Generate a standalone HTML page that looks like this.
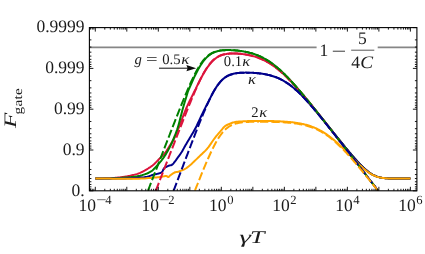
<!DOCTYPE html>
<html><head><meta charset="utf-8"><title>Fgate</title>
<style>html,body{margin:0;padding:0;background:#fff;width:425px;height:254px;overflow:hidden;font-family:"Liberation Serif",serif}</style></head>
<body>
<svg width="425" height="254" viewBox="0 0 425 254" style="position:absolute;left:0;top:0;will-change:transform" text-rendering="geometricPrecision">
<defs><clipPath id="cp"><rect x="89.4" y="27.6" width="327.5" height="163.20000000000002"/></clipPath></defs>
<path d="M89.4,47.40 H316.6 M377.7,47.40 H416.9" stroke="#868686" stroke-width="1.8" fill="none"/>
<g clip-path="url(#cp)" fill="none" stroke-linejoin="round">
<path d="M95.30,178.50 L96.48,178.48 L98.10,178.45 L100.03,178.42 L102.15,178.39 L104.33,178.35 L106.45,178.30 L108.38,178.25 L110.00,178.20 L111.33,178.14 L112.49,178.08 L113.53,178.01 L114.48,177.94 L115.37,177.86 L116.23,177.78 L117.09,177.69 L118.00,177.60 L118.92,177.51 L119.82,177.41 L120.69,177.31 L121.56,177.20 L122.41,177.09 L123.27,176.97 L124.13,176.84 L125.00,176.70 L125.88,176.55 L126.77,176.40 L127.66,176.24 L128.54,176.07 L129.43,175.90 L130.32,175.71 L131.21,175.51 L132.10,175.30 L132.99,175.08 L133.88,174.86 L134.76,174.63 L135.65,174.39 L136.54,174.13 L137.42,173.85 L138.31,173.54 L139.20,173.20 L140.09,172.83 L140.97,172.44 L141.86,172.02 L142.75,171.57 L143.64,171.11 L144.53,170.63 L145.41,170.12 L146.30,169.60 L147.19,169.06 L148.08,168.52 L148.96,167.95 L149.85,167.37 L150.74,166.76 L151.63,166.11 L152.51,165.43 L153.40,164.70 L154.31,163.90 L155.24,163.02 L156.18,162.09 L157.11,161.13 L158.03,160.18 L158.91,159.25 L159.74,158.38 L160.50,157.60 L161.20,156.90 L161.84,156.27 L162.44,155.69 L163.01,155.14 L163.54,154.61 L164.04,154.08 L164.53,153.55 L165.00,153.00 L165.44,152.45 L165.83,151.91 L166.19,151.39 L166.53,150.87 L166.86,150.33 L167.21,149.76 L167.58,149.16 L168.00,148.50 L168.47,147.78 L168.97,146.99 L169.51,146.17 L170.05,145.31 L170.59,144.45 L171.13,143.60 L171.63,142.78 L172.10,142.00 L172.52,141.29 L172.91,140.63 L173.28,140.00 L173.63,139.39 L173.98,138.75 L174.33,138.08 L174.70,137.33 L175.10,136.50 L175.49,135.64 L175.86,134.81 L176.23,133.96 L176.61,133.04 L177.02,132.02 L177.50,130.83 L178.05,129.44 L178.70,127.80 L179.46,125.83 L180.33,123.56 L181.27,121.05 L182.27,118.40 L183.30,115.69 L184.35,112.99 L185.39,110.40 L186.40,108.00 L187.45,105.65 L188.59,103.22 L189.76,100.78 L190.93,98.41 L192.04,96.20 L193.04,94.23 L193.87,92.57 L194.50,91.30 L195.69,88.96 L196.52,87.18 L197.35,85.43 L198.18,83.71 L199.01,82.03 L199.84,80.38 L200.68,78.77 L201.51,77.20 L202.34,75.67 L203.17,74.18 L204.00,72.75 L204.84,71.37 L205.67,70.04 L206.50,68.76 L207.33,67.55 L208.16,66.39 L208.99,65.28 L209.81,64.24 L210.60,63.26 L211.39,62.34 L212.18,61.48 L212.97,60.67 L213.76,59.93 L214.55,59.24 L215.34,58.60 L216.13,58.01 L216.92,57.47 L217.71,56.98 L218.50,56.54 L219.29,56.13 L220.08,55.77 L220.87,55.44 L221.66,55.15 L222.45,54.88 L223.24,54.65 L224.03,54.45 L224.81,54.27 L225.60,54.11 L226.39,53.97 L227.18,53.86 L227.97,53.76 L228.76,53.68 L229.55,53.61 L230.34,53.56 L231.13,53.52 L231.92,53.50 L232.71,53.48 L233.50,53.48 L234.29,53.48 L235.08,53.50 L235.87,53.53 L236.66,53.56 L237.45,53.61 L238.24,53.66 L239.03,53.72 L239.82,53.79 L240.61,53.86 L241.40,53.94 L242.19,54.04 L242.98,54.13 L243.77,54.24 L244.56,54.35 L245.35,54.48 L246.14,54.61 L246.93,54.75 L247.72,54.89 L248.51,55.05 L249.30,55.21 L250.09,55.39 L250.88,55.57 L251.67,55.76 L252.46,55.96 L253.24,56.18 L254.03,56.40 L254.82,56.63 L255.61,56.88 L256.40,57.13 L257.19,57.40 L257.98,57.68 L258.77,57.97 L259.56,58.27 L260.35,58.59 L261.14,58.92 L261.93,59.26 L262.72,59.61 L263.51,59.98 L264.30,60.36 L265.09,60.76 L265.88,61.17 L266.67,61.60 L267.46,62.04 L268.25,62.49 L269.04,62.96 L269.83,63.44 L270.62,63.94 L271.41,64.45 L272.20,64.98 L272.99,65.52 L273.78,66.08 L274.57,66.65 L275.36,67.24 L276.15,67.84 L276.94,68.45 L277.73,69.08 L278.52,69.72 L279.31,70.38 L280.10,71.05 L280.89,71.73 L281.67,72.43 L282.46,73.14 L283.25,73.86 L284.04,74.59 L284.83,75.33 L285.62,76.09 L286.41,76.86 L287.20,77.64 L287.99,78.42 L288.78,79.22 L289.57,80.03 L290.36,80.85 L291.15,81.68 L291.94,82.51 L292.73,83.36 L293.52,84.21 L294.31,85.07 L295.10,85.94 L295.89,86.82 L296.68,87.70 L297.47,88.59 L298.26,89.48 L299.05,90.39 L299.84,91.29 L300.63,92.21 L301.42,93.13 L302.21,94.05 L303.00,94.98 L303.79,95.91 L304.58,96.85 L305.37,97.79 L306.16,98.74 L306.95,99.69 L307.74,100.64 L308.53,101.60 L309.32,102.56 L310.11,103.52 L310.89,104.48 L311.68,105.45 L312.47,106.42 L313.26,107.39 L314.05,108.37 L314.84,109.35 L315.63,110.32 L316.42,111.30 L317.21,112.29 L318.00,113.27 L318.79,114.26 L319.58,115.24 L320.37,116.23 L321.16,117.22 L321.95,118.21 L322.74,119.20 L323.53,120.19 L324.32,121.18 L325.11,122.17 L325.90,123.17 L326.69,124.16 L327.48,125.15 L328.27,126.15 L329.06,127.14 L329.85,128.13 L330.64,129.12 L331.43,130.12 L332.22,131.11 L333.01,132.10 L333.80,133.09 L334.59,134.08 L335.38,135.07 L336.17,136.06 L336.96,137.05 L337.75,138.04 L338.54,139.02 L339.32,140.00 L340.11,140.99 L340.90,141.97 L341.69,142.94 L342.48,143.92 L343.27,144.89 L344.06,145.86 L344.85,146.83 L345.64,147.79 L346.43,148.75 L347.22,149.71 L348.01,150.66 L348.80,151.61 L349.59,152.55 L350.38,153.49 L351.17,154.42 L351.96,155.35 L352.75,156.27 L353.54,157.18 L354.33,158.08 L355.12,158.98 L355.91,159.87 L356.70,160.74 L357.49,161.61 L358.28,162.46 L359.07,163.30 L359.86,164.13 L360.65,164.94 L361.44,165.74 L362.23,166.52 L363.02,167.28 L363.81,168.02 L364.60,168.74 L365.39,169.44 L366.18,170.11 L366.97,170.76 L367.75,171.39 L368.54,171.98 L369.33,172.55 L370.12,173.10 L370.91,173.61 L371.70,174.09 L372.49,174.54 L373.28,174.96 L374.07,175.35 L374.86,175.71 L375.65,176.05 L376.44,176.35 L377.23,176.62 L378.02,176.87 L378.81,177.10 L379.60,177.30 L380.39,177.48 L381.18,177.63 L381.97,177.77 L382.76,177.89 L383.55,178.00 L384.34,178.09 L385.13,178.17 L385.92,178.24 L386.71,178.29 L387.50,178.34 L388.29,178.38 L389.08,178.41 L389.87,178.43 L390.66,178.46 L391.45,178.47 L392.24,178.48 L393.03,178.49 L393.82,178.50 L394.61,178.51 L395.40,178.51 L396.18,178.51 L396.97,178.51 L397.76,178.52 L398.55,178.52 L399.34,178.52 L400.13,178.52 L400.92,178.52 L401.71,178.52 L402.50,178.52 L403.29,178.52 L404.08,178.52 L404.87,178.52 L405.66,178.52 L406.45,178.52 L407.24,178.52 L408.03,178.52 L408.82,178.52 L409.61,178.52 L410.40,178.52" stroke="#DC143C" stroke-width="2"/>
<path d="M95.30,178.50 L96.43,178.50 L97.93,178.50 L99.72,178.50 L101.71,178.50 L103.82,178.49 L105.96,178.48 L108.05,178.45 L110.00,178.40 L111.91,178.33 L113.91,178.24 L115.95,178.14 L117.97,178.03 L119.94,177.92 L121.80,177.80 L123.50,177.70 L125.00,177.60 L126.27,177.52 L127.33,177.45 L128.24,177.38 L129.04,177.32 L129.78,177.25 L130.51,177.18 L131.27,177.10 L132.10,177.00 L132.99,176.89 L133.88,176.78 L134.76,176.67 L135.65,176.54 L136.54,176.41 L137.42,176.26 L138.31,176.09 L139.20,175.90 L140.11,175.69 L141.04,175.45 L141.99,175.19 L142.93,174.91 L143.85,174.63 L144.73,174.35 L145.55,174.07 L146.30,173.80 L146.97,173.54 L147.58,173.28 L148.14,173.02 L148.66,172.76 L149.15,172.49 L149.61,172.23 L150.06,171.97 L150.50,171.70 L150.90,171.47 L151.22,171.29 L151.50,171.13 L151.77,170.96 L152.06,170.74 L152.41,170.45 L152.85,170.04 L153.40,169.50 L154.10,168.78 L154.94,167.91 L155.87,166.91 L156.85,165.85 L157.84,164.75 L158.81,163.67 L159.71,162.64 L160.50,161.70 L161.20,160.84 L161.85,159.99 L162.46,159.17 L163.03,158.38 L163.57,157.62 L164.07,156.88 L164.55,156.17 L165.00,155.50 L165.41,154.88 L165.77,154.33 L166.09,153.82 L166.39,153.33 L166.67,152.85 L166.96,152.34 L167.26,151.80 L167.60,151.20 L167.96,150.55 L168.34,149.86 L168.73,149.14 L169.12,148.41 L169.52,147.65 L169.92,146.88 L170.31,146.09 L170.70,145.30 L171.07,144.52 L171.43,143.76 L171.78,143.00 L172.14,142.22 L172.50,141.40 L172.88,140.52 L173.27,139.56 L173.70,138.50 L174.15,137.38 L174.62,136.24 L175.11,135.06 L175.61,133.79 L176.13,132.43 L176.67,130.95 L177.23,129.31 L177.80,127.50 L178.40,125.45 L179.03,123.16 L179.68,120.69 L180.34,118.11 L181.02,115.48 L181.69,112.88 L182.35,110.36 L183.00,108.00 L183.67,105.66 L184.38,103.24 L185.11,100.80 L185.82,98.43 L186.50,96.22 L187.11,94.24 L187.62,92.57 L188.00,91.30 L188.70,89.64 L189.48,87.81 L190.25,86.01 L191.03,84.23 L191.80,82.48 L192.57,80.76 L193.35,79.07 L194.12,77.41 L194.90,75.80 L195.67,74.22 L196.44,72.69 L197.22,71.20 L197.99,69.76 L198.76,68.37 L199.54,67.04 L200.31,65.75 L201.09,64.53 L201.86,63.36 L202.63,62.25 L203.41,61.20 L204.18,60.21 L204.96,59.28 L205.73,58.41 L206.50,57.60 L207.28,56.84 L208.05,56.14 L208.83,55.49 L209.60,54.90 L210.37,54.35 L211.15,53.85 L211.92,53.39 L212.70,52.98 L213.47,52.60 L214.24,52.26 L215.02,51.96 L215.79,51.69 L216.57,51.44 L217.34,51.22 L218.11,51.03 L218.89,50.86 L219.66,50.71 L220.43,50.58 L221.21,50.47 L221.98,50.38 L222.76,50.29 L223.53,50.23 L224.30,50.17 L225.08,50.13 L225.85,50.10 L226.63,50.08 L227.40,50.07 L228.17,50.06 L228.95,50.07 L229.72,50.08 L230.50,50.10 L231.27,50.13 L232.04,50.17 L232.82,50.21 L233.59,50.26 L234.37,50.31 L235.14,50.37 L235.91,50.44 L236.69,50.51 L237.46,50.59 L238.24,50.68 L239.03,50.77 L239.82,50.87 L240.61,50.98 L241.40,51.09 L242.19,51.22 L242.98,51.34 L243.77,51.48 L244.56,51.62 L245.35,51.77 L246.14,51.93 L246.93,52.10 L247.72,52.28 L248.51,52.46 L249.30,52.66 L250.09,52.86 L250.88,53.07 L251.67,53.30 L252.46,53.53 L253.24,53.78 L254.03,54.04 L254.82,54.30 L255.61,54.58 L256.40,54.88 L257.19,55.18 L257.98,55.50 L258.77,55.83 L259.56,56.17 L260.35,56.52 L261.14,56.89 L261.93,57.28 L262.72,57.67 L263.51,58.09 L264.30,58.51 L265.09,58.95 L265.88,59.41 L266.67,59.88 L267.46,60.36 L268.25,60.86 L269.04,61.37 L269.83,61.90 L270.62,62.44 L271.41,63.00 L272.20,63.57 L272.99,64.16 L273.78,64.76 L274.57,65.37 L275.36,66.00 L276.15,66.65 L276.94,67.30 L277.73,67.97 L278.52,68.66 L279.31,69.35 L280.10,70.06 L280.89,70.78 L281.67,71.52 L282.46,72.26 L283.25,73.02 L284.04,73.78 L284.83,74.56 L285.62,75.35 L286.41,76.15 L287.20,76.96 L287.99,77.78 L288.78,78.61 L289.57,79.44 L290.36,80.29 L291.15,81.14 L291.94,82.00 L292.73,82.87 L293.52,83.75 L294.31,84.63 L295.10,85.52 L295.89,86.42 L296.68,87.32 L297.47,88.23 L298.26,89.14 L299.05,90.06 L299.84,90.99 L300.63,91.92 L301.42,92.85 L302.21,93.79 L303.00,94.73 L303.79,95.68 L304.58,96.63 L305.37,97.58 L306.16,98.54 L306.95,99.50 L307.74,100.46 L308.53,101.42 L309.32,102.39 L310.11,103.36 L310.89,104.34 L311.68,105.31 L312.47,106.29 L313.26,107.27 L314.05,108.25 L314.84,109.24 L315.63,110.22 L316.42,111.21 L317.21,112.19 L318.00,113.18 L318.79,114.17 L319.58,115.16 L320.37,116.16 L321.16,117.15 L321.95,118.14 L322.74,119.14 L323.53,120.13 L324.32,121.13 L325.11,122.12 L325.90,123.12 L326.69,124.11 L327.48,125.11 L328.27,126.10 L329.06,127.10 L329.85,128.09 L330.64,129.09 L331.43,130.08 L332.22,131.08 L333.01,132.07 L333.80,133.07 L334.59,134.06 L335.38,135.05 L336.17,136.04 L336.96,137.03 L337.75,138.02 L338.54,139.00 L339.32,139.99 L340.11,140.97 L340.90,141.95 L341.69,142.93 L342.48,143.90 L343.27,144.88 L344.06,145.85 L344.85,146.82 L345.64,147.78 L346.43,148.74 L347.22,149.70 L348.01,150.65 L348.80,151.60 L349.59,152.55 L350.38,153.48 L351.17,154.42 L351.96,155.34 L352.75,156.26 L353.54,157.17 L354.33,158.08 L355.12,158.98 L355.91,159.86 L356.70,160.74 L357.49,161.60 L358.28,162.46 L359.07,163.30 L359.86,164.13 L360.65,164.94 L361.44,165.73 L362.23,166.51 L363.02,167.27 L363.81,168.02 L364.60,168.74 L365.39,169.43 L366.18,170.11 L366.97,170.76 L367.75,171.39 L368.54,171.98 L369.33,172.55 L370.12,173.09 L370.91,173.61 L371.70,174.09 L372.49,174.54 L373.28,174.96 L374.07,175.35 L374.86,175.71 L375.65,176.05 L376.44,176.35 L377.23,176.62 L378.02,176.87 L378.81,177.10 L379.60,177.30 L380.39,177.48 L381.18,177.63 L381.97,177.77 L382.76,177.89 L383.55,178.00 L384.34,178.09 L385.13,178.17 L385.92,178.24 L386.71,178.29 L387.50,178.34 L388.29,178.38 L389.08,178.41 L389.87,178.43 L390.66,178.46 L391.45,178.47 L392.24,178.48 L393.03,178.49 L393.82,178.50 L394.61,178.51 L395.40,178.51 L396.18,178.51 L396.97,178.51 L397.76,178.52 L398.55,178.52 L399.34,178.52 L400.13,178.52 L400.92,178.52 L401.71,178.52 L402.50,178.52 L403.29,178.52 L404.08,178.52 L404.87,178.52 L405.66,178.52 L406.45,178.52 L407.24,178.52 L408.03,178.52 L408.82,178.52 L409.61,178.52 L410.40,178.52" stroke="#008000" stroke-width="2"/>
<path d="M95.30,178.50 L97.70,178.50 L101.00,178.50 L104.94,178.50 L109.26,178.49 L113.69,178.49 L117.97,178.47 L121.83,178.44 L125.00,178.40 L127.57,178.34 L129.81,178.27 L131.77,178.19 L133.51,178.09 L135.08,178.00 L136.51,177.90 L137.87,177.80 L139.20,177.70 L140.43,177.61 L141.47,177.54 L142.38,177.46 L143.19,177.39 L143.95,177.30 L144.69,177.19 L145.46,177.06 L146.30,176.90 L147.20,176.69 L148.11,176.45 L149.03,176.18 L149.94,175.89 L150.85,175.59 L151.73,175.31 L152.58,175.04 L153.40,174.80 L154.19,174.59 L154.97,174.40 L155.73,174.22 L156.46,174.06 L157.16,173.89 L157.83,173.73 L158.44,173.57 L159.00,173.40 L159.50,173.24 L159.93,173.10 L160.32,172.97 L160.67,172.84 L160.99,172.69 L161.29,172.50 L161.59,172.28 L161.90,172.00 L162.20,171.64 L162.48,171.20 L162.75,170.71 L163.00,170.20 L163.25,169.69 L163.49,169.20 L163.74,168.76 L164.00,168.40 L164.26,168.12 L164.51,167.90 L164.75,167.71 L165.00,167.56 L165.25,167.43 L165.52,167.30 L165.80,167.16 L166.10,167.00 L166.42,166.82 L166.77,166.63 L167.13,166.44 L167.51,166.26 L167.88,166.07 L168.26,165.90 L168.64,165.74 L169.00,165.60 L169.35,165.49 L169.71,165.43 L170.06,165.38 L170.41,165.34 L170.75,165.29 L171.10,165.21 L171.45,165.09 L171.80,164.90 L172.15,164.66 L172.49,164.37 L172.82,164.05 L173.16,163.70 L173.51,163.32 L173.86,162.90 L174.22,162.46 L174.60,162.00 L174.99,161.50 L175.40,160.97 L175.82,160.40 L176.24,159.80 L176.68,159.19 L177.11,158.56 L177.56,157.93 L178.00,157.30 L178.44,156.69 L178.88,156.08 L179.33,155.48 L179.78,154.86 L180.23,154.22 L180.70,153.54 L181.19,152.80 L181.70,152.00 L182.21,151.15 L182.73,150.26 L183.25,149.34 L183.79,148.37 L184.35,147.35 L184.95,146.26 L185.60,145.12 L186.30,143.90 L187.09,142.55 L187.98,141.04 L188.94,139.44 L189.92,137.79 L190.89,136.16 L191.82,134.60 L192.67,133.16 L193.40,131.90 L194.03,130.79 L194.61,129.76 L195.13,128.81 L195.59,127.95 L196.00,127.19 L196.36,126.52 L196.65,125.96 L196.90,125.50 L198.10,122.75 L199.01,120.80 L199.92,118.86 L200.84,116.93 L201.75,115.02 L202.66,113.13 L203.57,111.26 L204.48,109.41 L205.39,107.59 L206.30,105.79 L207.22,104.03 L208.13,102.30 L209.02,100.60 L209.81,98.94 L210.60,97.33 L211.39,95.75 L212.18,94.23 L212.97,92.76 L213.76,91.33 L214.55,89.97 L215.34,88.66 L216.13,87.41 L216.92,86.22 L217.71,85.09 L218.50,84.02 L219.29,83.01 L220.08,82.07 L220.87,81.19 L221.66,80.36 L222.45,79.60 L223.24,78.89 L224.03,78.24 L224.81,77.64 L225.60,77.09 L226.39,76.59 L227.18,76.14 L227.97,75.72 L228.76,75.34 L229.55,75.00 L230.34,74.70 L231.13,74.42 L231.92,74.18 L232.71,73.96 L233.50,73.76 L234.29,73.58 L235.08,73.43 L235.87,73.29 L236.66,73.17 L237.45,73.07 L238.24,72.98 L239.03,72.90 L239.82,72.84 L240.61,72.78 L241.40,72.73 L242.19,72.70 L242.98,72.67 L243.77,72.65 L244.56,72.63 L245.35,72.62 L246.14,72.62 L246.93,72.63 L247.72,72.64 L248.51,72.65 L249.30,72.67 L250.09,72.70 L250.88,72.73 L251.67,72.77 L252.46,72.81 L253.24,72.86 L254.03,72.91 L254.82,72.96 L255.61,73.02 L256.40,73.09 L257.19,73.16 L257.98,73.24 L258.77,73.32 L259.56,73.41 L260.35,73.51 L261.14,73.61 L261.93,73.72 L262.72,73.84 L263.51,73.96 L264.30,74.10 L265.09,74.24 L265.88,74.39 L266.67,74.54 L267.46,74.71 L268.25,74.89 L269.04,75.08 L269.83,75.27 L270.62,75.48 L271.41,75.70 L272.20,75.93 L272.99,76.18 L273.78,76.44 L274.57,76.70 L275.36,76.99 L276.15,77.28 L276.94,77.60 L277.73,77.92 L278.52,78.26 L279.31,78.62 L280.10,78.99 L280.89,79.38 L281.67,79.78 L282.46,80.20 L283.25,80.64 L284.04,81.09 L284.83,81.56 L285.62,82.04 L286.41,82.55 L287.20,83.07 L287.99,83.61 L288.78,84.16 L289.57,84.73 L290.36,85.32 L291.15,85.92 L291.94,86.54 L292.73,87.18 L293.52,87.83 L294.31,88.50 L295.10,89.18 L295.89,89.88 L296.68,90.59 L297.47,91.31 L298.26,92.05 L299.05,92.81 L299.84,93.57 L300.63,94.35 L301.42,95.14 L302.21,95.94 L303.00,96.75 L303.79,97.58 L304.58,98.41 L305.37,99.25 L306.16,100.11 L306.95,100.97 L307.74,101.84 L308.53,102.72 L309.32,103.60 L310.11,104.49 L310.89,105.39 L311.68,106.30 L312.47,107.21 L313.26,108.13 L314.05,109.06 L314.84,109.99 L315.63,110.92 L316.42,111.86 L317.21,112.80 L318.00,113.75 L318.79,114.70 L319.58,115.66 L320.37,116.61 L321.16,117.58 L321.95,118.54 L322.74,119.51 L323.53,120.47 L324.32,121.45 L325.11,122.42 L325.90,123.39 L326.69,124.37 L327.48,125.35 L328.27,126.33 L329.06,127.31 L329.85,128.29 L330.64,129.27 L331.43,130.25 L332.22,131.23 L333.01,132.21 L333.80,133.20 L334.59,134.18 L335.38,135.16 L336.17,136.14 L336.96,137.12 L337.75,138.10 L338.54,139.08 L339.32,140.06 L340.11,141.04 L340.90,142.01 L341.69,142.99 L342.48,143.96 L343.27,144.93 L344.06,145.90 L344.85,146.86 L345.64,147.82 L346.43,148.78 L347.22,149.73 L348.01,150.68 L348.80,151.63 L349.59,152.57 L350.38,153.51 L351.17,154.44 L351.96,155.36 L352.75,156.28 L353.54,157.19 L354.33,158.09 L355.12,158.99 L355.91,159.87 L356.70,160.75 L357.49,161.61 L358.28,162.47 L359.07,163.31 L359.86,164.13 L360.65,164.94 L361.44,165.74 L362.23,166.52 L363.02,167.28 L363.81,168.02 L364.60,168.74 L365.39,169.44 L366.18,170.11 L366.97,170.76 L367.75,171.39 L368.54,171.99 L369.33,172.56 L370.12,173.10 L370.91,173.61 L371.70,174.09 L372.49,174.54 L373.28,174.96 L374.07,175.35 L374.86,175.71 L375.65,176.05 L376.44,176.35 L377.23,176.62 L378.02,176.87 L378.81,177.10 L379.60,177.30 L380.39,177.48 L381.18,177.63 L381.97,177.77 L382.76,177.89 L383.55,178.00 L384.34,178.09 L385.13,178.17 L385.92,178.24 L386.71,178.29 L387.50,178.34 L388.29,178.38 L389.08,178.41 L389.87,178.43 L390.66,178.46 L391.45,178.47 L392.24,178.48 L393.03,178.49 L393.82,178.50 L394.61,178.51 L395.40,178.51 L396.18,178.51 L396.97,178.51 L397.76,178.52 L398.55,178.52 L399.34,178.52 L400.13,178.52 L400.92,178.52 L401.71,178.52 L402.50,178.52 L403.29,178.52 L404.08,178.52 L404.87,178.52 L405.66,178.52 L406.45,178.52 L407.24,178.52 L408.03,178.52 L408.82,178.52 L409.61,178.52 L410.40,178.52" stroke="#00008B" stroke-width="2"/>
<path d="M95.30,178.50 L97.70,178.52 L101.00,178.54 L104.94,178.57 L109.26,178.60 L113.69,178.63 L117.97,178.66 L121.83,178.68 L125.00,178.70 L127.52,178.72 L129.64,178.74 L131.46,178.76 L133.07,178.77 L134.56,178.78 L136.01,178.77 L137.53,178.75 L139.20,178.70 L141.02,178.62 L142.92,178.51 L144.84,178.39 L146.74,178.24 L148.60,178.10 L150.35,177.95 L151.96,177.82 L153.40,177.70 L154.64,177.60 L155.71,177.51 L156.65,177.43 L157.49,177.35 L158.26,177.27 L159.00,177.19 L159.73,177.10 L160.50,177.00 L161.30,176.88 L162.09,176.72 L162.86,176.55 L163.61,176.39 L164.31,176.23 L164.97,176.11 L165.57,176.03 L166.10,176.00 L166.54,176.06 L166.89,176.20 L167.18,176.39 L167.42,176.60 L167.63,176.81 L167.84,176.98 L168.05,177.09 L168.30,177.10 L168.55,177.02 L168.78,176.88 L169.00,176.68 L169.22,176.44 L169.46,176.18 L169.73,175.89 L170.04,175.59 L170.40,175.30 L170.82,174.99 L171.30,174.63 L171.82,174.24 L172.36,173.85 L172.93,173.46 L173.49,173.10 L174.06,172.77 L174.60,172.50 L175.12,172.30 L175.63,172.16 L176.13,172.06 L176.63,171.99 L177.15,171.91 L177.70,171.82 L178.28,171.69 L178.90,171.50 L179.58,171.26 L180.32,170.99 L181.10,170.69 L181.91,170.36 L182.71,170.02 L183.51,169.66 L184.28,169.28 L185.00,168.90 L185.68,168.50 L186.35,168.07 L187.00,167.63 L187.62,167.18 L188.24,166.71 L188.84,166.24 L189.43,165.77 L190.00,165.30 L190.54,164.85 L191.03,164.42 L191.50,164.00 L191.96,163.56 L192.43,163.11 L192.93,162.62 L193.48,162.09 L194.10,161.50 L194.79,160.85 L195.52,160.14 L196.30,159.39 L197.11,158.61 L197.95,157.80 L198.80,156.97 L199.65,156.13 L200.50,155.30 L201.35,154.47 L202.23,153.65 L203.12,152.83 L204.01,151.98 L204.91,151.11 L205.82,150.19 L206.71,149.23 L207.60,148.20 L208.48,147.09 L209.35,145.89 L210.23,144.63 L211.10,143.34 L211.97,142.03 L212.85,140.74 L213.72,139.49 L214.60,138.30 L215.51,137.14 L216.45,135.97 L217.41,134.80 L218.37,133.67 L219.30,132.58 L220.18,131.56 L220.98,130.63 L221.70,129.80 L222.30,129.09 L222.80,128.48 L223.22,127.96 L223.59,127.51 L223.95,127.11 L224.32,126.73 L224.72,126.37 L225.20,126.00 L225.74,125.64 L226.30,125.31 L226.89,125.00 L227.49,124.72 L228.11,124.45 L228.74,124.20 L229.37,123.95 L230.00,123.70 L230.60,123.45 L231.16,123.21 L231.71,122.98 L232.27,122.76 L232.87,122.55 L233.55,122.35 L234.31,122.17 L235.20,122.00 L236.30,121.85 L237.62,121.72 L239.07,121.60 L240.57,121.49 L242.04,121.40 L243.37,121.32 L244.49,121.26 L245.30,121.20 L246.14,121.20 L246.93,121.15 L247.72,121.11 L248.51,121.07 L249.30,121.04 L250.09,121.01 L250.88,120.99 L251.67,120.97 L252.46,120.95 L253.24,120.94 L254.03,120.93 L254.82,120.92 L255.61,120.91 L256.40,120.90 L257.19,120.90 L257.98,120.90 L258.77,120.90 L259.56,120.90 L260.35,120.90 L261.14,120.90 L261.93,120.91 L262.72,120.91 L263.51,120.92 L264.30,120.93 L265.09,120.94 L265.88,120.95 L266.67,120.96 L267.46,120.97 L268.25,120.99 L269.04,121.00 L269.83,121.02 L270.62,121.04 L271.41,121.05 L272.20,121.07 L272.99,121.10 L273.78,121.12 L274.57,121.14 L275.36,121.17 L276.15,121.20 L276.94,121.23 L277.73,121.26 L278.52,121.29 L279.31,121.33 L280.10,121.36 L280.89,121.40 L281.67,121.45 L282.46,121.49 L283.25,121.54 L284.04,121.59 L284.83,121.64 L285.62,121.69 L286.41,121.75 L287.20,121.81 L287.99,121.88 L288.78,121.95 L289.57,122.02 L290.36,122.10 L291.15,122.18 L291.94,122.26 L292.73,122.35 L293.52,122.45 L294.31,122.55 L295.10,122.65 L295.89,122.76 L296.68,122.88 L297.47,123.00 L298.26,123.13 L299.05,123.27 L299.84,123.41 L300.63,123.56 L301.42,123.71 L302.21,123.88 L303.00,124.05 L303.79,124.23 L304.58,124.42 L305.37,124.62 L306.16,124.83 L306.95,125.05 L307.74,125.28 L308.53,125.51 L309.32,125.76 L310.11,126.02 L310.89,126.29 L311.68,126.58 L312.47,126.87 L313.26,127.18 L314.05,127.50 L314.84,127.83 L315.63,128.17 L316.42,128.53 L317.21,128.90 L318.00,129.28 L318.79,129.68 L319.58,130.09 L320.37,130.52 L321.16,130.96 L321.95,131.41 L322.74,131.88 L323.53,132.36 L324.32,132.85 L325.11,133.36 L325.90,133.89 L326.69,134.43 L327.48,134.98 L328.27,135.54 L329.06,136.12 L329.85,136.71 L330.64,137.32 L331.43,137.94 L332.22,138.57 L333.01,139.21 L333.80,139.87 L334.59,140.54 L335.38,141.21 L336.17,141.90 L336.96,142.60 L337.75,143.31 L338.54,144.03 L339.32,144.76 L340.11,145.50 L340.90,146.25 L341.69,147.00 L342.48,147.76 L343.27,148.53 L344.06,149.31 L344.85,150.09 L345.64,150.87 L346.43,151.67 L347.22,152.46 L348.01,153.26 L348.80,154.06 L349.59,154.86 L350.38,155.66 L351.17,156.47 L351.96,157.27 L352.75,158.07 L353.54,158.88 L354.33,159.67 L355.12,160.47 L355.91,161.26 L356.70,162.05 L357.49,162.82 L358.28,163.60 L359.07,164.36 L359.86,165.11 L360.65,165.85 L361.44,166.58 L362.23,167.29 L363.02,167.99 L363.81,168.68 L364.60,169.34 L365.39,169.99 L366.18,170.62 L366.97,171.22 L367.75,171.80 L368.54,172.36 L369.33,172.89 L370.12,173.40 L370.91,173.88 L371.70,174.33 L372.49,174.75 L373.28,175.15 L374.07,175.51 L374.86,175.85 L375.65,176.17 L376.44,176.45 L377.23,176.71 L378.02,176.95 L378.81,177.16 L379.60,177.35 L380.39,177.52 L381.18,177.67 L381.97,177.80 L382.76,177.92 L383.55,178.02 L384.34,178.11 L385.13,178.18 L385.92,178.25 L386.71,178.30 L387.50,178.35 L388.29,178.38 L389.08,178.41 L389.87,178.44 L390.66,178.46 L391.45,178.47 L392.24,178.49 L393.03,178.49 L393.82,178.50 L394.61,178.51 L395.40,178.51 L396.18,178.51 L396.97,178.51 L397.76,178.52 L398.55,178.52 L399.34,178.52 L400.13,178.52 L400.92,178.52 L401.71,178.52 L402.50,178.52 L403.29,178.52 L404.08,178.52 L404.87,178.52 L405.66,178.52 L406.45,178.52 L407.24,178.52 L408.03,178.52 L408.82,178.52 L409.61,178.52 L410.40,178.52" stroke="#FFA500" stroke-width="2"/>
<path d="M155.78,190.80 L156.11,189.96 L156.90,187.91 L157.69,185.87 L158.48,183.83 L159.27,181.78 L160.06,179.74 L160.85,177.70 L161.64,175.65 L162.43,173.61 L163.22,171.57 L164.01,169.52 L164.80,167.48 L165.59,165.44 L166.38,163.40 L167.16,161.36 L167.95,159.32 L168.74,157.28 L169.53,155.24 L170.32,153.20 L171.11,151.16 L171.90,149.12 L172.69,147.09 L173.48,145.05 L174.27,143.02 L175.06,140.98 L175.85,138.95 L176.64,136.92 L177.43,134.90 L178.22,132.87 L179.01,130.85 L179.80,128.83 L180.59,126.81 L181.38,124.80 L182.17,122.79 L182.96,120.78 L183.75,118.78 L184.54,116.79 L185.33,114.80 L186.12,112.82 L186.91,110.84 L187.70,108.87 L188.49,106.91 L189.28,104.97 L190.07,103.03 L190.86,101.10 L191.65,99.19 L192.44,97.30 L193.23,95.42 L194.02,93.56 L194.81,91.72 L195.59,89.91 L196.38,88.11 L197.17,86.35 L197.96,84.61 L198.75,82.91 L199.54,81.24 L200.33,79.60 L201.12,78.01 L201.91,76.46 L202.70,74.95 L203.49,73.49 L204.28,72.08 L205.07,70.72 L205.86,69.42 L206.65,68.17 L207.44,66.98 L208.23,65.85 L209.02,64.77 L209.81,63.76 L210.60,62.81 L211.39,61.91 L212.18,61.08 L212.97,60.30 L213.76,59.58 L214.55,58.92 L215.34,58.30 L216.13,57.74 L216.92,57.23 L217.71,56.76 L218.50,56.33 L219.29,55.95 L220.08,55.60 L220.87,55.29 L221.66,55.01 L222.45,54.76 L223.24,54.54 L224.03,54.34 L224.81,54.17 L225.60,54.03 L226.39,53.90 L227.18,53.79 L227.97,53.70 L228.76,53.63 L229.55,53.57 L230.34,53.52 L231.13,53.49 L231.92,53.46 L232.71,53.45" stroke="#DC143C" stroke-width="2" stroke-dasharray="8.4,3"/>
<path d="M378.22,190.80 L378.02,190.55 L377.23,189.52 L376.44,188.50 L375.65,187.48 L374.86,186.46 L374.07,185.44 L373.28,184.41 L372.49,183.39 L371.70,182.37 L370.91,181.35 L370.12,180.33 L369.33,179.30 L368.54,178.28 L367.75,177.26 L366.97,176.24 L366.18,175.22 L365.39,174.20 L364.60,173.18 L363.81,172.15 L363.02,171.13 L362.23,170.11 L361.44,169.09 L360.65,168.07 L359.86,167.05 L359.07,166.03 L358.28,165.01 L357.49,163.98 L356.70,162.96 L355.91,161.94 L355.12,160.92 L354.33,159.90 L353.54,158.88 L352.75,157.86 L351.96,156.84 L351.17,155.82 L350.38,154.80 L349.59,153.78 L348.80,152.76 L348.01,151.75 L347.22,150.73 L346.43,149.71 L345.64,148.69 L344.85,147.67 L344.06,146.65 L343.27,145.64 L342.48,144.62 L341.69,143.60 L340.90,142.59 L340.11,141.57 L339.32,140.55 L338.54,139.54 L337.75,138.52 L336.96,137.51 L336.17,136.49 L335.38,135.48 L334.59,134.47 L333.80,133.45 L333.01,132.44 L332.22,131.43 L331.43,130.42 L330.64,129.41 L329.85,128.40 L329.06,127.39 L328.27,126.38 L327.48,125.38 L326.69,124.37 L325.90,123.37 L325.11,122.36 L324.32,121.36 L323.53,120.36 L322.74,119.36 L321.95,118.36 L321.16,117.36 L320.37,116.36 L319.58,115.37 L318.79,114.38 L318.00,113.38 L317.21,112.39 L316.42,111.41 L315.63,110.42 L314.84,109.44 L314.05,108.45 L313.26,107.47 L312.47,106.50 L311.68,105.52 L310.89,104.55 L310.11,103.58 L309.32,102.62 L308.53,101.65 L307.74,100.69 L306.95,99.74 L306.16,98.79 L305.37,97.84 L304.58,96.89 L303.79,95.95 L303.00,95.02 L302.21,94.09 L301.42,93.16 L300.63,92.24 L299.84,91.33 L299.05,90.42 L298.26,89.51 L297.47,88.62 L296.68,87.73 L295.89,86.84 L295.10,85.96 L294.31,85.09 L293.52,84.23 L292.73,83.38 L291.94,82.53 L291.15,81.70 L290.36,80.87 L289.57,80.05 L288.78,79.24 L287.99,78.44 L287.20,77.65 L286.41,76.87 L285.62,76.10 L284.83,75.35 L284.04,74.60 L283.25,73.87 L282.46,73.15 L281.67,72.44 L280.89,71.74 L280.10,71.06 L279.31,70.39 L278.52,69.73 L277.73,69.09 L276.94,68.46 L276.15,67.85 L275.36,67.24 L274.57,66.66 L273.78,66.09 L272.99,65.53 L272.20,64.99 L271.41,64.46 L270.62,63.95 L269.83,63.45 L269.04,62.96 L268.25,62.50 L267.46,62.04 L266.67,61.60 L265.88,61.18 L265.09,60.77 L264.30,60.37 L263.51,59.99 L262.72,59.62 L261.93,59.26 L261.14,58.92 L260.35,58.59 L259.56,58.28 L258.77,57.97 L257.98,57.68 L257.19,57.40 L256.40,57.14 L255.61,56.88 L254.82,56.64 L254.03,56.40 L253.24,56.18 L252.46,55.97 L251.67,55.76 L250.88,55.57 L250.09,55.39 L249.30,55.21 L248.51,55.05 L247.72,54.89 L246.93,54.75 L246.14,54.61 L245.35,54.48 L244.56,54.35 L243.77,54.24 L242.98,54.13 L242.19,54.03 L241.40,53.94 L240.61,53.86 L239.82,53.78 L239.03,53.71 L238.24,53.65 L237.45,53.59 L236.66,53.55 L235.87,53.51 L235.08,53.48 L234.29,53.46 L233.50,53.45 L232.71,53.45" stroke="#DC143C" stroke-width="2" stroke-dasharray="8.4,3" stroke-dashoffset="7.5"/>
<path d="M147.93,190.80 L148.21,190.07 L149.00,188.03 L149.79,185.99 L150.58,183.94 L151.37,181.90 L152.16,179.85 L152.95,177.81 L153.74,175.77 L154.53,173.72 L155.32,171.68 L156.11,169.64 L156.90,167.59 L157.69,165.55 L158.48,163.51 L159.27,161.47 L160.06,159.43 L160.85,157.38 L161.64,155.34 L162.43,153.30 L163.22,151.26 L164.01,149.23 L164.80,147.19 L165.59,145.15 L166.38,143.12 L167.16,141.08 L167.95,139.05 L168.74,137.02 L169.53,134.99 L170.32,132.96 L171.11,130.93 L171.90,128.91 L172.69,126.89 L173.48,124.87 L174.27,122.85 L175.06,120.84 L175.85,118.83 L176.64,116.83 L177.43,114.83 L178.22,112.84 L179.01,110.85 L179.80,108.87 L180.59,106.90 L181.38,104.93 L182.17,102.98 L182.96,101.04 L183.75,99.10 L184.54,97.19 L185.33,95.28 L186.12,93.39 L186.91,91.52 L187.70,89.67 L188.49,87.84 L189.28,86.03 L190.07,84.25 L190.86,82.50 L191.65,80.78 L192.44,79.08 L193.23,77.43 L194.02,75.81 L194.81,74.23 L195.59,72.70 L196.38,71.21 L197.17,69.77 L197.96,68.38 L198.75,67.04 L199.54,65.76 L200.33,64.54 L201.12,63.37 L201.91,62.26 L202.70,61.21 L203.49,60.22 L204.28,59.29 L205.07,58.42 L205.86,57.60 L206.65,56.85 L207.44,56.15 L208.23,55.50 L209.02,54.90 L209.81,54.35 L210.60,53.85 L211.39,53.40 L212.18,52.98 L212.97,52.61 L213.76,52.27 L214.55,51.96 L215.34,51.69 L216.13,51.44 L216.92,51.23 L217.71,51.03 L218.50,50.86 L219.29,50.72 L220.08,50.59 L220.87,50.47 L221.66,50.38 L222.45,50.30 L223.24,50.23 L224.03,50.18 L224.81,50.13 L225.60,50.10 L226.39,50.08 L227.18,50.07 L227.97,50.07" stroke="#008000" stroke-width="2" stroke-dasharray="8.4,3"/>
<path d="M378.22,190.80 L378.02,190.55 L377.23,189.52 L376.44,188.50 L375.65,187.48 L374.86,186.46 L374.07,185.43 L373.28,184.41 L372.49,183.39 L371.70,182.37 L370.91,181.35 L370.12,180.32 L369.33,179.30 L368.54,178.28 L367.75,177.26 L366.97,176.24 L366.18,175.22 L365.39,174.19 L364.60,173.17 L363.81,172.15 L363.02,171.13 L362.23,170.11 L361.44,169.09 L360.65,168.06 L359.86,167.04 L359.07,166.02 L358.28,165.00 L357.49,163.98 L356.70,162.96 L355.91,161.94 L355.12,160.92 L354.33,159.90 L353.54,158.88 L352.75,157.86 L351.96,156.84 L351.17,155.81 L350.38,154.79 L349.59,153.77 L348.80,152.76 L348.01,151.74 L347.22,150.72 L346.43,149.70 L345.64,148.68 L344.85,147.66 L344.06,146.64 L343.27,145.62 L342.48,144.60 L341.69,143.59 L340.90,142.57 L340.11,141.55 L339.32,140.53 L338.54,139.52 L337.75,138.50 L336.96,137.49 L336.17,136.47 L335.38,135.46 L334.59,134.44 L333.80,133.43 L333.01,132.41 L332.22,131.40 L331.43,130.39 L330.64,129.37 L329.85,128.36 L329.06,127.35 L328.27,126.34 L327.48,125.33 L326.69,124.32 L325.90,123.32 L325.11,122.31 L324.32,121.30 L323.53,120.30 L322.74,119.29 L321.95,118.29 L321.16,117.29 L320.37,116.29 L319.58,115.29 L318.79,114.29 L318.00,113.30 L317.21,112.30 L316.42,111.31 L315.63,110.32 L314.84,109.33 L314.05,108.34 L313.26,107.35 L312.47,106.37 L311.68,105.39 L310.89,104.41 L310.11,103.43 L309.32,102.45 L308.53,101.48 L307.74,100.51 L306.95,99.55 L306.16,98.58 L305.37,97.63 L304.58,96.67 L303.79,95.72 L303.00,94.77 L302.21,93.82 L301.42,92.88 L300.63,91.95 L299.84,91.02 L299.05,90.09 L298.26,89.17 L297.47,88.26 L296.68,87.35 L295.89,86.44 L295.10,85.55 L294.31,84.65 L293.52,83.77 L292.73,82.89 L291.94,82.02 L291.15,81.16 L290.36,80.31 L289.57,79.46 L288.78,78.62 L287.99,77.79 L287.20,76.98 L286.41,76.17 L285.62,75.37 L284.83,74.58 L284.04,73.80 L283.25,73.03 L282.46,72.27 L281.67,71.53 L280.89,70.79 L280.10,70.07 L279.31,69.36 L278.52,68.66 L277.73,67.98 L276.94,67.31 L276.15,66.65 L275.36,66.01 L274.57,65.38 L273.78,64.77 L272.99,64.16 L272.20,63.58 L271.41,63.01 L270.62,62.45 L269.83,61.91 L269.04,61.38 L268.25,60.86 L267.46,60.36 L266.67,59.88 L265.88,59.41 L265.09,58.96 L264.30,58.52 L263.51,58.09 L262.72,57.68 L261.93,57.28 L261.14,56.90 L260.35,56.53 L259.56,56.17 L258.77,55.83 L257.98,55.50 L257.19,55.18 L256.40,54.88 L255.61,54.59 L254.82,54.31 L254.03,54.04 L253.24,53.78 L252.46,53.54 L251.67,53.30 L250.88,53.08 L250.09,52.86 L249.30,52.66 L248.51,52.47 L247.72,52.28 L246.93,52.10 L246.14,51.94 L245.35,51.78 L244.56,51.63 L243.77,51.48 L242.98,51.35 L242.19,51.22 L241.40,51.10 L240.61,50.98 L239.82,50.88 L239.03,50.78 L238.24,50.68 L237.45,50.60 L236.66,50.52 L235.87,50.44 L235.08,50.38 L234.29,50.31 L233.50,50.26 L232.71,50.21 L231.92,50.17 L231.13,50.13 L230.34,50.11 L229.55,50.09 L228.76,50.07 L227.97,50.07" stroke="#008000" stroke-width="2" stroke-dasharray="8.4,3" stroke-dashoffset="6.0"/>
<path d="M173.60,190.80 L174.27,189.03 L175.06,186.93 L175.85,184.84 L176.64,182.75 L177.43,180.65 L178.22,178.56 L179.01,176.47 L179.80,174.38 L180.59,172.29 L181.38,170.20 L182.17,168.12 L182.96,166.03 L183.75,163.94 L184.54,161.86 L185.33,159.78 L186.12,157.70 L186.91,155.62 L187.70,153.54 L188.49,151.47 L189.28,149.40 L190.07,147.33 L190.86,145.26 L191.65,143.20 L192.44,141.15 L193.23,139.09 L194.02,137.05 L194.81,135.01 L195.59,132.98 L196.38,130.95 L197.17,128.93 L197.96,126.92 L198.75,124.93 L199.54,122.94 L200.33,120.97 L201.12,119.01 L201.91,117.07 L202.70,115.15 L203.49,113.24 L204.28,111.36 L205.07,109.50 L205.86,107.67 L206.65,105.87 L207.44,104.10 L208.23,102.36 L209.02,100.66 L209.81,98.99 L210.60,97.37 L211.39,95.80 L212.18,94.27 L212.97,92.79 L213.76,91.37 L214.55,90.00 L215.34,88.69 L216.13,87.43 L216.92,86.24 L217.71,85.11 L218.50,84.04 L219.29,83.03 L220.08,82.09 L220.87,81.20 L221.66,80.38 L222.45,79.62 L223.24,78.91 L224.03,78.26 L224.81,77.66 L225.60,77.11 L226.39,76.61 L227.18,76.15 L227.97,75.73 L228.76,75.36 L229.55,75.02 L230.34,74.71 L231.13,74.43 L231.92,74.19 L232.71,73.97 L233.50,73.77 L234.29,73.60 L235.08,73.44 L235.87,73.31 L236.66,73.19 L237.45,73.08 L238.24,72.99 L239.03,72.91 L239.82,72.85 L240.61,72.79 L241.40,72.75 L242.19,72.71 L242.98,72.68 L243.77,72.66 L244.56,72.64 L245.35,72.64 L246.14,72.63" stroke="#00008B" stroke-width="2" stroke-dasharray="8.4,3"/>
<path d="M378.22,190.80 L378.02,190.55 L377.23,189.52 L376.44,188.50 L375.65,187.48 L374.86,186.46 L374.07,185.44 L373.28,184.41 L372.49,183.39 L371.70,182.37 L370.91,181.35 L370.12,180.33 L369.33,179.31 L368.54,178.28 L367.75,177.26 L366.97,176.24 L366.18,175.22 L365.39,174.20 L364.60,173.18 L363.81,172.16 L363.02,171.14 L362.23,170.11 L361.44,169.09 L360.65,168.07 L359.86,167.05 L359.07,166.03 L358.28,165.01 L357.49,163.99 L356.70,162.97 L355.91,161.95 L355.12,160.93 L354.33,159.91 L353.54,158.89 L352.75,157.88 L351.96,156.86 L351.17,155.84 L350.38,154.82 L349.59,153.80 L348.80,152.79 L348.01,151.77 L347.22,150.75 L346.43,149.74 L345.64,148.72 L344.85,147.70 L344.06,146.69 L343.27,145.68 L342.48,144.66 L341.69,143.65 L340.90,142.64 L340.11,141.62 L339.32,140.61 L338.54,139.60 L337.75,138.59 L336.96,137.58 L336.17,136.58 L335.38,135.57 L334.59,134.56 L333.80,133.56 L333.01,132.56 L332.22,131.55 L331.43,130.55 L330.64,129.55 L329.85,128.56 L329.06,127.56 L328.27,126.57 L327.48,125.57 L326.69,124.58 L325.90,123.60 L325.11,122.61 L324.32,121.63 L323.53,120.65 L322.74,119.67 L321.95,118.69 L321.16,117.72 L320.37,116.75 L319.58,115.79 L318.79,114.83 L318.00,113.87 L317.21,112.91 L316.42,111.97 L315.63,111.02 L314.84,110.08 L314.05,109.15 L313.26,108.22 L312.47,107.29 L311.68,106.38 L310.89,105.47 L310.11,104.56 L309.32,103.67 L308.53,102.78 L307.74,101.90 L306.95,101.02 L306.16,100.16 L305.37,99.30 L304.58,98.46 L303.79,97.62 L303.00,96.80 L302.21,95.98 L301.42,95.18 L300.63,94.39 L299.84,93.61 L299.05,92.84 L298.26,92.09 L297.47,91.35 L296.68,90.62 L295.89,89.91 L295.10,89.21 L294.31,88.52 L293.52,87.86 L292.73,87.20 L291.94,86.57 L291.15,85.95 L290.36,85.34 L289.57,84.75 L288.78,84.18 L287.99,83.63 L287.20,83.09 L286.41,82.57 L285.62,82.06 L284.83,81.58 L284.04,81.11 L283.25,80.65 L282.46,80.22 L281.67,79.80 L280.89,79.39 L280.10,79.01 L279.31,78.63 L278.52,78.28 L277.73,77.94 L276.94,77.61 L276.15,77.30 L275.36,77.00 L274.57,76.72 L273.78,76.45 L272.99,76.19 L272.20,75.95 L271.41,75.72 L270.62,75.50 L269.83,75.29 L269.04,75.09 L268.25,74.90 L267.46,74.73 L266.67,74.56 L265.88,74.40 L265.09,74.25 L264.30,74.11 L263.51,73.98 L262.72,73.85 L261.93,73.74 L261.14,73.63 L260.35,73.52 L259.56,73.43 L258.77,73.34 L257.98,73.25 L257.19,73.17 L256.40,73.10 L255.61,73.04 L254.82,72.97 L254.03,72.92 L253.24,72.87 L252.46,72.82 L251.67,72.78 L250.88,72.74 L250.09,72.71 L249.30,72.69 L248.51,72.67 L247.72,72.65 L246.93,72.64 L246.14,72.63" stroke="#00008B" stroke-width="2" stroke-dasharray="8.4,3" stroke-dashoffset="1.5"/>
<path d="M194.88,190.80 L195.59,188.99 L196.38,186.99 L197.17,185.00 L197.96,183.01 L198.75,181.04 L199.54,179.07 L200.33,177.10 L201.12,175.15 L201.91,173.21 L202.70,171.28 L203.49,169.37 L204.28,167.47 L205.07,165.58 L205.86,163.72 L206.65,161.87 L207.44,160.05 L208.23,158.25 L209.02,156.47 L209.81,154.73 L210.60,153.01 L211.39,151.33 L212.18,149.68 L212.97,148.07 L213.76,146.50 L214.55,144.98 L215.34,143.50 L216.13,142.07 L216.92,140.69 L217.71,139.36 L218.50,138.09 L219.29,136.88 L220.08,135.72 L220.87,134.62 L221.66,133.58 L222.45,132.60 L223.24,131.68 L224.03,130.81 L224.81,130.00 L225.60,129.25 L226.39,128.55 L227.18,127.91 L227.97,127.31 L228.76,126.76 L229.55,126.26 L230.34,125.80 L231.13,125.38 L231.92,125.00 L232.71,124.65 L233.50,124.33 L234.29,124.05 L235.08,123.79 L235.87,123.55 L236.66,123.34 L237.45,123.15 L238.24,122.98 L239.03,122.83 L239.82,122.70 L240.61,122.57 L241.40,122.46 L242.19,122.37 L242.98,122.28 L243.77,122.20 L244.56,122.13 L245.35,122.07 L246.14,122.02 L246.93,121.97 L247.72,121.92 L248.51,121.89 L249.30,121.86 L250.09,121.83 L250.88,121.80 L251.67,121.78 L252.46,121.76 L253.24,121.75 L254.03,121.73 L254.82,121.72 L255.61,121.72 L256.40,121.71 L257.19,121.70 L257.98,121.70 L258.77,121.70" stroke="#FFA500" stroke-width="2" stroke-dasharray="8.4,3"/>
<path d="M377.95,190.80 L377.23,189.89 L376.44,188.89 L375.65,187.89 L374.86,186.90 L374.07,185.90 L373.28,184.91 L372.49,183.91 L371.70,182.92 L370.91,181.93 L370.12,180.94 L369.33,179.96 L368.54,178.97 L367.75,177.99 L366.97,177.01 L366.18,176.04 L365.39,175.06 L364.60,174.09 L363.81,173.12 L363.02,172.16 L362.23,171.19 L361.44,170.23 L360.65,169.28 L359.86,168.33 L359.07,167.38 L358.28,166.44 L357.49,165.50 L356.70,164.56 L355.91,163.63 L355.12,162.71 L354.33,161.79 L353.54,160.87 L352.75,159.96 L351.96,159.06 L351.17,158.16 L350.38,157.27 L349.59,156.39 L348.80,155.51 L348.01,154.64 L347.22,153.78 L346.43,152.93 L345.64,152.08 L344.85,151.25 L344.06,150.42 L343.27,149.60 L342.48,148.79 L341.69,147.99 L340.90,147.21 L340.11,146.43 L339.32,145.66 L338.54,144.91 L337.75,144.16 L336.96,143.43 L336.17,142.71 L335.38,142.00 L334.59,141.31 L333.80,140.63 L333.01,139.96 L332.22,139.30 L331.43,138.66 L330.64,138.03 L329.85,137.42 L329.06,136.82 L328.27,136.23 L327.48,135.66 L326.69,135.11 L325.90,134.57 L325.11,134.04 L324.32,133.53 L323.53,133.03 L322.74,132.55 L321.95,132.08 L321.16,131.63 L320.37,131.19 L319.58,130.76 L318.79,130.36 L318.00,129.96 L317.21,129.58 L316.42,129.21 L315.63,128.85 L314.84,128.51 L314.05,128.18 L313.26,127.87 L312.47,127.57 L311.68,127.27 L310.89,127.00 L310.11,126.73 L309.32,126.47 L308.53,126.23 L307.74,125.99 L306.95,125.77 L306.16,125.55 L305.37,125.35 L304.58,125.15 L303.79,124.96 L303.00,124.79 L302.21,124.62 L301.42,124.45 L300.63,124.30 L299.84,124.15 L299.05,124.01 L298.26,123.88 L297.47,123.75 L296.68,123.63 L295.89,123.52 L295.10,123.41 L294.31,123.31 L293.52,123.21 L292.73,123.12 L291.94,123.03 L291.15,122.95 L290.36,122.87 L289.57,122.79 L288.78,122.72 L287.99,122.66 L287.20,122.59 L286.41,122.53 L285.62,122.48 L284.83,122.42 L284.04,122.37 L283.25,122.32 L282.46,122.28 L281.67,122.23 L280.89,122.19 L280.10,122.15 L279.31,122.12 L278.52,122.08 L277.73,122.05 L276.94,122.02 L276.15,121.99 L275.36,121.96 L274.57,121.94 L273.78,121.91 L272.99,121.89 L272.20,121.87 L271.41,121.85 L270.62,121.83 L269.83,121.82 L269.04,121.80 L268.25,121.79 L267.46,121.77 L266.67,121.76 L265.88,121.75 L265.09,121.74 L264.30,121.73 L263.51,121.72 L262.72,121.71 L261.93,121.71 L261.14,121.71 L260.35,121.70 L259.56,121.70 L258.77,121.70" stroke="#FFA500" stroke-width="2" stroke-dasharray="8.4,3" stroke-dashoffset="0"/>
</g>
<rect x="89.4" y="27.6" width="327.5" height="163.20000000000002" fill="none" stroke="#000" stroke-width="1.1"/>
<path d="M95.30,190.8 v-4 M95.30,27.6 v4 M104.79,190.8 v-2 M104.79,27.6 v2 M110.33,190.8 v-2 M110.33,27.6 v2 M114.27,190.8 v-2 M114.27,27.6 v2 M117.32,190.8 v-2 M117.32,27.6 v2 M119.82,190.8 v-2 M119.82,27.6 v2 M121.93,190.8 v-2 M121.93,27.6 v2 M123.76,190.8 v-2 M123.76,27.6 v2 M125.37,190.8 v-2 M125.37,27.6 v2 M126.81,190.8 v-4 M126.81,27.6 v4 M136.30,190.8 v-2 M136.30,27.6 v2 M141.84,190.8 v-2 M141.84,27.6 v2 M145.78,190.8 v-2 M145.78,27.6 v2 M148.83,190.8 v-2 M148.83,27.6 v2 M151.33,190.8 v-2 M151.33,27.6 v2 M153.44,190.8 v-2 M153.44,27.6 v2 M155.27,190.8 v-2 M155.27,27.6 v2 M156.88,190.8 v-2 M156.88,27.6 v2 M158.32,190.8 v-4 M158.32,27.6 v4 M167.81,190.8 v-2 M167.81,27.6 v2 M173.35,190.8 v-2 M173.35,27.6 v2 M177.29,190.8 v-2 M177.29,27.6 v2 M180.34,190.8 v-2 M180.34,27.6 v2 M182.84,190.8 v-2 M182.84,27.6 v2 M184.95,190.8 v-2 M184.95,27.6 v2 M186.78,190.8 v-2 M186.78,27.6 v2 M188.39,190.8 v-2 M188.39,27.6 v2 M189.83,190.8 v-4 M189.83,27.6 v4 M199.32,190.8 v-2 M199.32,27.6 v2 M204.86,190.8 v-2 M204.86,27.6 v2 M208.80,190.8 v-2 M208.80,27.6 v2 M211.85,190.8 v-2 M211.85,27.6 v2 M214.35,190.8 v-2 M214.35,27.6 v2 M216.46,190.8 v-2 M216.46,27.6 v2 M218.29,190.8 v-2 M218.29,27.6 v2 M219.90,190.8 v-2 M219.90,27.6 v2 M221.34,190.8 v-4 M221.34,27.6 v4 M230.83,190.8 v-2 M230.83,27.6 v2 M236.37,190.8 v-2 M236.37,27.6 v2 M240.31,190.8 v-2 M240.31,27.6 v2 M243.36,190.8 v-2 M243.36,27.6 v2 M245.86,190.8 v-2 M245.86,27.6 v2 M247.97,190.8 v-2 M247.97,27.6 v2 M249.80,190.8 v-2 M249.80,27.6 v2 M251.41,190.8 v-2 M251.41,27.6 v2 M252.85,190.8 v-4 M252.85,27.6 v4 M262.34,190.8 v-2 M262.34,27.6 v2 M267.88,190.8 v-2 M267.88,27.6 v2 M271.82,190.8 v-2 M271.82,27.6 v2 M274.87,190.8 v-2 M274.87,27.6 v2 M277.37,190.8 v-2 M277.37,27.6 v2 M279.48,190.8 v-2 M279.48,27.6 v2 M281.31,190.8 v-2 M281.31,27.6 v2 M282.92,190.8 v-2 M282.92,27.6 v2 M284.36,190.8 v-4 M284.36,27.6 v4 M293.85,190.8 v-2 M293.85,27.6 v2 M299.39,190.8 v-2 M299.39,27.6 v2 M303.33,190.8 v-2 M303.33,27.6 v2 M306.38,190.8 v-2 M306.38,27.6 v2 M308.88,190.8 v-2 M308.88,27.6 v2 M310.99,190.8 v-2 M310.99,27.6 v2 M312.82,190.8 v-2 M312.82,27.6 v2 M314.43,190.8 v-2 M314.43,27.6 v2 M315.87,190.8 v-4 M315.87,27.6 v4 M325.36,190.8 v-2 M325.36,27.6 v2 M330.90,190.8 v-2 M330.90,27.6 v2 M334.84,190.8 v-2 M334.84,27.6 v2 M337.89,190.8 v-2 M337.89,27.6 v2 M340.39,190.8 v-2 M340.39,27.6 v2 M342.50,190.8 v-2 M342.50,27.6 v2 M344.33,190.8 v-2 M344.33,27.6 v2 M345.94,190.8 v-2 M345.94,27.6 v2 M347.38,190.8 v-4 M347.38,27.6 v4 M356.87,190.8 v-2 M356.87,27.6 v2 M362.41,190.8 v-2 M362.41,27.6 v2 M366.35,190.8 v-2 M366.35,27.6 v2 M369.40,190.8 v-2 M369.40,27.6 v2 M371.90,190.8 v-2 M371.90,27.6 v2 M374.01,190.8 v-2 M374.01,27.6 v2 M375.84,190.8 v-2 M375.84,27.6 v2 M377.45,190.8 v-2 M377.45,27.6 v2 M378.89,190.8 v-4 M378.89,27.6 v4 M388.38,190.8 v-2 M388.38,27.6 v2 M393.92,190.8 v-2 M393.92,27.6 v2 M397.86,190.8 v-2 M397.86,27.6 v2 M400.91,190.8 v-2 M400.91,27.6 v2 M403.41,190.8 v-2 M403.41,27.6 v2 M405.52,190.8 v-2 M405.52,27.6 v2 M407.35,190.8 v-2 M407.35,27.6 v2 M408.96,190.8 v-2 M408.96,27.6 v2 M410.40,190.8 v-4 M410.40,27.6 v4 M90.42,190.8 v-2 M90.42,27.6 v2 M92.25,190.8 v-2 M92.25,27.6 v2 M93.86,190.8 v-2 M93.86,27.6 v2 M89.4,190.80 h4 M416.9,190.80 h-4 M89.4,150.00 h4 M416.9,150.00 h-4 M89.4,109.20 h4 M416.9,109.20 h-4 M89.4,68.40 h4 M416.9,68.40 h-4 M89.4,27.60 h4 M416.9,27.60 h-4 M89.4,162.28 h2 M416.9,162.28 h-2 M89.4,169.47 h2 M416.9,169.47 h-2 M89.4,174.56 h2 M416.9,174.56 h-2 M89.4,178.52 h2 M416.9,178.52 h-2 M89.4,181.75 h2 M416.9,181.75 h-2 M89.4,184.48 h2 M416.9,184.48 h-2 M89.4,186.85 h2 M416.9,186.85 h-2 M89.4,188.93 h2 M416.9,188.93 h-2 M89.4,121.48 h2 M416.9,121.48 h-2 M89.4,128.67 h2 M416.9,128.67 h-2 M89.4,133.76 h2 M416.9,133.76 h-2 M89.4,137.72 h2 M416.9,137.72 h-2 M89.4,140.95 h2 M416.9,140.95 h-2 M89.4,143.68 h2 M416.9,143.68 h-2 M89.4,146.05 h2 M416.9,146.05 h-2 M89.4,148.13 h2 M416.9,148.13 h-2 M89.4,80.68 h2 M416.9,80.68 h-2 M89.4,87.87 h2 M416.9,87.87 h-2 M89.4,92.96 h2 M416.9,92.96 h-2 M89.4,96.92 h2 M416.9,96.92 h-2 M89.4,100.15 h2 M416.9,100.15 h-2 M89.4,102.88 h2 M416.9,102.88 h-2 M89.4,105.25 h2 M416.9,105.25 h-2 M89.4,107.33 h2 M416.9,107.33 h-2 M89.4,39.88 h2 M416.9,39.88 h-2 M89.4,47.07 h2 M416.9,47.07 h-2 M89.4,52.16 h2 M416.9,52.16 h-2 M89.4,56.12 h2 M416.9,56.12 h-2 M89.4,59.35 h2 M416.9,59.35 h-2 M89.4,62.08 h2 M416.9,62.08 h-2 M89.4,64.45 h2 M416.9,64.45 h-2 M89.4,66.53 h2 M416.9,66.53 h-2" stroke="#000" stroke-width="0.9" fill="none"/>
<g fill="#111" style="opacity:0.96">
<text x="84.6" y="32.3" font-size="17.5" text-anchor="end" font-family="'Liberation Serif', serif" >0.9999</text>
<text x="84.6" y="73.1" font-size="17.5" text-anchor="end" font-family="'Liberation Serif', serif" >0.999</text>
<text x="84.6" y="113.9" font-size="17.5" text-anchor="end" font-family="'Liberation Serif', serif" >0.99</text>
<text x="84.6" y="154.7" font-size="17.5" text-anchor="end" font-family="'Liberation Serif', serif" >0.9</text>
<text x="84.6" y="195.5" font-size="17.5" text-anchor="end" font-family="'Liberation Serif', serif" >0.</text>
<text x="78.6" y="210.9" font-size="17.5" font-family="'Liberation Serif', serif">10</text>
<text transform="translate(96.3,204.2) scale(1.45,1)" font-size="12.6" font-family="'Liberation Serif', serif">−</text>
<text x="105.3" y="204.2" font-size="12.6" font-family="'Liberation Serif', serif">4</text>
<text x="141.6" y="210.9" font-size="17.5" font-family="'Liberation Serif', serif">10</text>
<text transform="translate(159.3,204.2) scale(1.45,1)" font-size="12.6" font-family="'Liberation Serif', serif">−</text>
<text x="168.3" y="204.2" font-size="12.6" font-family="'Liberation Serif', serif">2</text>
<text x="209.1" y="210.9" font-size="17.5" font-family="'Liberation Serif', serif">10</text>
<text x="227.2" y="204.2" font-size="12.6" font-family="'Liberation Serif', serif">0</text>
<text x="272.2" y="210.9" font-size="17.5" font-family="'Liberation Serif', serif">10</text>
<text x="290.3" y="204.2" font-size="12.6" font-family="'Liberation Serif', serif">2</text>
<text x="335.2" y="210.9" font-size="17.5" font-family="'Liberation Serif', serif">10</text>
<text x="353.3" y="204.2" font-size="12.6" font-family="'Liberation Serif', serif">4</text>
<text x="398.2" y="210.9" font-size="17.5" font-family="'Liberation Serif', serif">10</text>
<text x="416.3" y="204.2" font-size="12.6" font-family="'Liberation Serif', serif">6</text>
<text transform="translate(239.3,243.4) scale(1.65,1)" font-size="18" font-style="italic" font-family="'Liberation Serif', serif" >γ</text>
<text transform="translate(249.9,242.5) scale(1.45,1)" font-size="18" font-style="italic" font-family="'Liberation Serif', serif" >T</text>
<text transform="translate(15.5,128.0) rotate(-90) scale(1.43,1)" font-size="17.5" font-style="italic" font-family="'Liberation Serif', serif">F</text>
<text transform="translate(21.6,114.4) rotate(-90) scale(1.22,1)" font-size="12.5" letter-spacing="0.2" font-family="'Liberation Serif', serif">gate</text>
<text transform="translate(134.6,63.5)" font-size="14.7" font-style="italic" font-family="'Liberation Serif', serif" >g</text>
<text transform="translate(145.9,63.7) scale(1.4,1)" font-size="14.7" font-family="'Liberation Serif', serif" >=</text>
<text transform="translate(162.2,63.5)" font-size="14.7" font-family="'Liberation Serif', serif" >0.5</text>
<text transform="translate(181.2,63.5) scale(1.15,1)" font-size="14.7" font-style="italic" font-family="'Liberation Serif', serif" >κ</text>
<path d="M159,68.2 H190" stroke="#000" stroke-width="1" fill="none"/>
<path d="M196.2,68.2 L186.4,65.1 L187.6,68.2 L186.4,71.3 Z" fill="#000"/>
<text transform="translate(223.8,65.7)" font-size="14.7" font-family="'Liberation Serif', serif" >0.1</text>
<text transform="translate(242.3,65.7) scale(1.12,1)" font-size="14.7" font-style="italic" font-family="'Liberation Serif', serif" >κ</text>
<text transform="translate(247.9,84.4) scale(1.12,1)" font-size="14.7" font-style="italic" font-family="'Liberation Serif', serif" >κ</text>
<text transform="translate(251.2,116.9)" font-size="14.7" font-family="'Liberation Serif', serif" >2</text>
<text transform="translate(259.2,116.9) scale(1.12,1)" font-size="14.7" font-style="italic" font-family="'Liberation Serif', serif" >κ</text>
<text transform="translate(319.5,55.6)" font-size="17.5" font-family="'Liberation Serif', serif" >1</text>
<text transform="translate(331.5,56.6) scale(1.5,1)" font-size="17.5" font-family="'Liberation Serif', serif" >−</text>
<path d="M351.2,50.2 H374.3" stroke="#000" stroke-width="0.7"/>
<text transform="translate(358.0,43.9)" font-size="17.5" font-family="'Liberation Serif', serif" >5</text>
<text transform="translate(351.2,67.5)" font-size="17.5" font-family="'Liberation Serif', serif" >4</text>
<text transform="translate(360.3,67.5) scale(1.1,1)" font-size="17.5" font-style="italic" font-family="'Liberation Serif', serif" >C</text>
</g>
</svg>
</body></html>
